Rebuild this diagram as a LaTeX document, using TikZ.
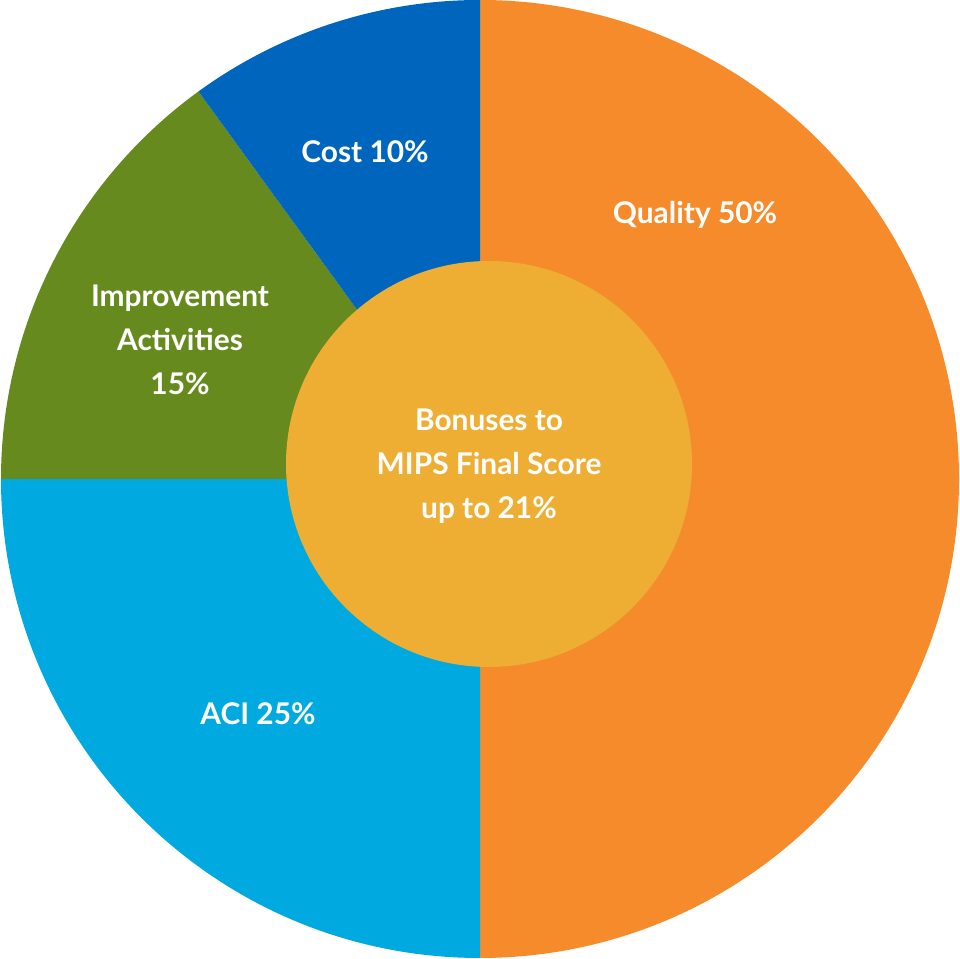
\documentclass[tikz,border=0pt]{standalone}
\usepackage{fontspec}
\setmainfont{Lato}
\definecolor{qual}{HTML}{F58B2B}
\definecolor{cost}{HTML}{0066BD}
\definecolor{impr}{HTML}{668A1E}
\definecolor{aci}{HTML}{00A9E0}
\definecolor{inner}{HTML}{EDAE33}
\begin{document}
\begin{tikzpicture}[lbl/.style={text=white,font=\fontsize{17}{25}\selectfont\bfseries,align=center}]
\useasboundingbox (0,0) rectangle (19.2,19.18);
\coordinate (c) at (9.6,9.6);
\def\R{9.58}
\fill[qual] (c) -- ++(90:\R) arc[start angle=90,end angle=-90,radius=\R] -- cycle;
\fill[aci] (c) -- ++(270:\R) arc[start angle=270,end angle=180,radius=\R] -- cycle;
\fill[impr] (c) -- ++(180:\R) arc[start angle=180,end angle=126,radius=\R] -- cycle;
\fill[cost] (c) -- ++(126:\R) arc[start angle=126,end angle=90,radius=\R] -- cycle;
\fill[inner] (9.78,9.9) circle[radius=4.06];
\node[lbl] (q) at (13.9,14.88) {Quality 50\%};
\node[lbl] (co) at (7.3,16.14) {Cost 10\%};
\node[lbl] (im) at (3.6,12.38) {Improvement\\Activities\\15\%};
\node[lbl] (a) at (5.16,4.9) {ACI 25\%};
\node[lbl] (b) at (9.78,9.86) {Bonuses to\\MIPS Final Score\\up to 21\%};
\end{tikzpicture}
\end{document}
